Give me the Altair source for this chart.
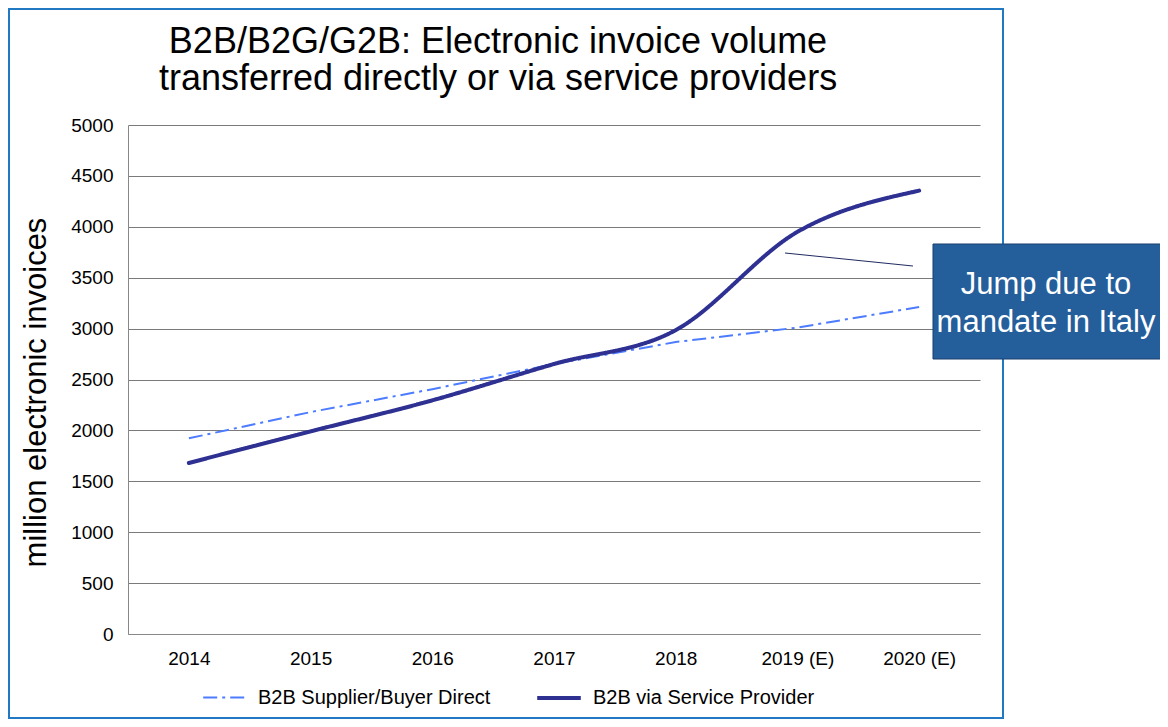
import altair as alt
import pandas as pd

years = ["2014", "2015", "2016", "2017", "2018", "2019 (E)", "2020 (E)"]
direct = [1922, 2180, 2405, 2652, 2868, 3010, 3212]
provider = [1680, 1990, 2295, 2652, 2985, 3950, 4355]
series_names = ["B2B Supplier/Buyer Direct", "B2B via Service Provider"]
annotation_lines = ["Jump due to", "mandate in Italy"]
title_lines = ["B2B/B2G/G2B: Electronic invoice volume",
               "transferred directly or via service providers"]

rows = []
for y, v in zip(years, direct):
    rows.append({"year": y, "value": v, "series": series_names[0]})
for y, v in zip(years, provider):
    rows.append({"year": y, "value": v, "series": series_names[1]})
df = pd.DataFrame(rows)

W, H = 852, 509
FONT = "Liberation Sans"

xenc = alt.X("year:N", sort=years, scale=alt.Scale(type="point", padding=0.5),
             axis=alt.Axis(title=None, labelAngle=0, labelFontSize=19, labelColor="#000",
                           labelPadding=15, ticks=False, domainColor="#888", grid=False,
                           labelFont=FONT))
yenc = alt.Y("value:Q", scale=alt.Scale(domain=[0, 5000]),
             axis=alt.Axis(title="million  electronic  invoices", values=list(range(0, 5001, 500)),
                           format="d",
                           titleFontSize=31, titleFontWeight="normal", titleColor="#000",
                           titleFont=FONT, titleAngle=270, titleX=-92, titleY=267,
                           titleAlign="center", titleBaseline="middle",
                           labelFontSize=19, labelColor="#000", labelPadding=15, labelFont=FONT,
                           ticks=False, domainColor="#888", gridColor="#7a7a7a", gridWidth=1))

color = alt.Color("series:N", scale=alt.Scale(domain=series_names, range=["#4D7CFE", "#2E3192"]),
                  legend=alt.Legend(title=None, orient="none", legendX=74, legendY=549,
                                    direction="horizontal", labelFontSize=20, labelFont=FONT,
                                    labelColor="#000", symbolType="stroke", symbolSize=1900,
                                    columnPadding=38, labelOffset=10, labelLimit=0))
dash = alt.StrokeDash("series:N", scale=alt.Scale(domain=series_names, range=[[14, 5, 3, 5], [1, 0]]),
                      legend=None)
swidth = alt.StrokeWidth("series:N", scale=alt.Scale(domain=series_names, range=[2, 4]), legend=None)

base = alt.Chart(df)
line_direct = base.transform_filter(alt.datum.series == series_names[0]).mark_line(
    interpolate="linear").encode(x=xenc, y=yenc, color=color, strokeDash=dash, strokeWidth=swidth)
line_prov = base.transform_filter(alt.datum.series == series_names[1]).mark_line(
    interpolate="monotone", strokeCap="round").encode(x=xenc, y=yenc, color=color, strokeDash=dash,
                                                       strokeWidth=swidth)

one = pd.DataFrame({"k": [0]})
frame = alt.Chart(one).mark_rect(fill=None, stroke="#2179C4", strokeWidth=2).encode(
    x=alt.value(-119), x2=alt.value(875), y=alt.value(-116), y2=alt.value(593))
connector = alt.Chart(one).mark_rule(color="#1F2A60", strokeWidth=1).encode(
    x=alt.value(657), y=alt.value(128), x2=alt.value(785), y2=alt.value(141))
box = alt.Chart(one).mark_rect(fill="#245E9B", stroke="#1B3F6E", strokeWidth=1).encode(
    x=alt.value(805), x2=alt.value(1045), y=alt.value(119), y2=alt.value(234))

ann1 = alt.Chart(one).mark_text(text=annotation_lines[0], color="white", fontSize=31, font=FONT,
                                align="center", baseline="middle").encode(
    x=alt.value(918), y=alt.value(160))
ann2 = alt.Chart(one).mark_text(text=annotation_lines[1], color="white", fontSize=31, font=FONT,
                                align="center", baseline="middle").encode(
    x=alt.value(918), y=alt.value(198))

t1 = alt.Chart(one).mark_text(text=title_lines[0], color="#000", fontSize=36, font=FONT,
                              align="center", baseline="alphabetic").encode(
    x=alt.value(370), y=alt.value(-72))
t2 = alt.Chart(one).mark_text(text=title_lines[1], color="#000", fontSize=36, font=FONT,
                              align="center", baseline="alphabetic").encode(
    x=alt.value(370), y=alt.value(-35))

chart = alt.layer(frame, line_direct, line_prov, connector, box, ann1, ann2, t1, t2).properties(
    width=W, height=H,
    autosize=alt.AutoSizeParams(type="none"),
    padding={"left": 120, "top": 117, "right": 180, "bottom": 85},
).configure_view(stroke=None)

chart.save("out.html", embed_options={"renderer": "svg", "actions": False})
